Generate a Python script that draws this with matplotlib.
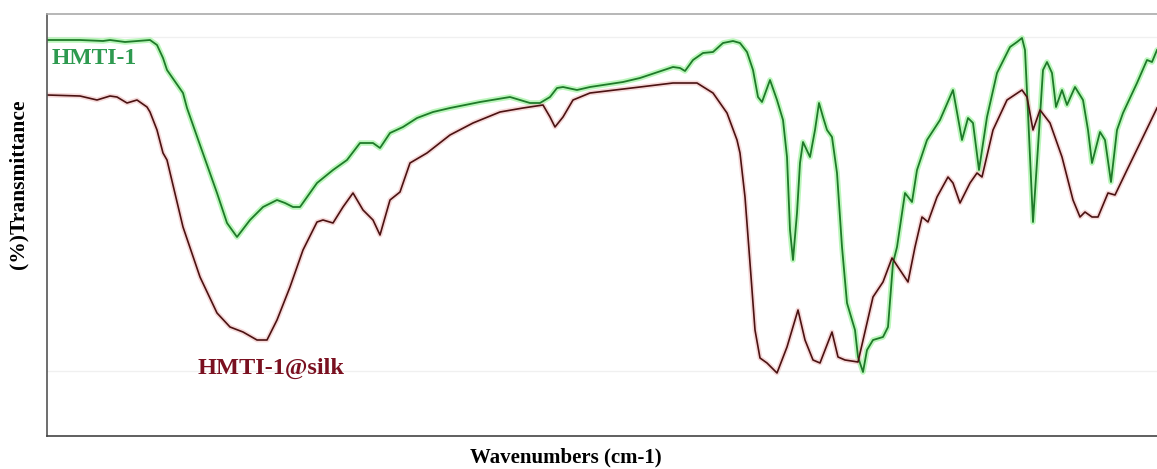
import numpy as np
import matplotlib
matplotlib.use("Agg")
import matplotlib.pyplot as plt

# positions along the (unlabelled) wavenumber axis and transmittance
green_x = [0, 33, 56, 63, 78, 103, 110, 116, 120, 136, 140, 153, 170, 180, 190, 203, 216, 230, 238, 246,
           253, 270, 286, 300, 313, 326, 333, 343, 356, 370, 386, 403, 433, 463, 473, 483, 493, 503, 510, 516,
           530, 543, 576, 593, 626, 633, 638, 646, 656, 666, 676, 686, 693, 700, 706, 711, 715, 723, 730, 736,
           740, 743, 746, 750, 753, 756, 763, 768, 772, 776, 780, 785, 790, 795, 800, 805, 808, 811, 816, 820,
           826, 836, 841, 846, 850, 858, 865, 870, 880, 893, 906, 915, 921, 926, 932, 940, 950, 963, 970, 975,
           978, 981, 986, 991, 996, 1000, 1005, 1009, 1015, 1020, 1028, 1036, 1041, 1045, 1053, 1058, 1064,
           1070, 1076, 1090, 1100, 1105, 1110]
green_t = [396, 396, 395, 396, 394, 396, 391, 378, 366, 343, 328, 291, 243, 213, 199, 216, 229, 236, 233, 229,
           229, 253, 266, 276, 293, 293, 288, 303, 309, 318, 324, 328, 334, 339, 336, 333, 333, 339, 348, 349,
           346, 349, 354, 358, 369, 368, 365, 376, 383, 384, 393, 395, 393, 384, 366, 339, 334, 356, 336, 316,
           279, 206, 176, 223, 273, 294, 279, 306, 333, 319, 306, 299, 263, 189, 133, 116, 106, 79, 64, 86,
           96, 99, 109, 173, 189, 243, 234, 266, 296, 316, 346, 296, 318, 313, 266, 319, 363, 389, 394, 398,
           386, 323, 214, 289, 366, 374, 363, 329, 346, 331, 349, 336, 306, 273, 304, 296, 254,
           306, 323, 353, 376, 374, 386]

silk_x = [0, 33, 50, 63, 70, 80, 90, 100, 103, 110, 116, 120, 136, 153, 170, 183, 196, 210, 220, 230,
          243, 256, 270, 276, 286, 296, 306, 316, 326, 333, 343, 353, 363, 380, 403, 426, 453, 476, 496, 503,
          508, 516, 526, 543, 593, 626, 650, 666, 680, 690, 693, 698, 703, 708, 713, 720, 730, 740, 751, 758,
          766, 773, 785, 791, 798, 811, 820, 826, 836, 845, 853, 861, 868, 875, 881, 890, 901, 906, 913, 923,
          930, 935, 946, 960, 975, 980, 986, 993, 1003, 1015, 1026, 1033, 1038, 1045, 1051, 1061, 1068, 1080,
          1096, 1110]
silk_t = [341, 340, 336, 340, 339, 333, 336, 329, 324, 306, 283, 276, 209, 159, 123, 109, 104, 96, 96, 116,
          149, 186, 214, 216, 213, 229, 243, 226, 216, 201, 236, 244, 273, 283, 301, 313, 324, 328, 331, 319,
          309, 319, 336, 343, 349, 353, 353, 343, 323, 296, 283, 239, 173, 106, 78, 73, 63, 89, 126, 96,
          76, 73, 104, 79, 76, 74, 113, 139, 154, 178, 166, 154, 189, 219, 214, 239, 259, 253, 233, 253,
          263, 259, 306, 336, 346, 339, 306, 326, 313, 279, 236, 219, 224, 219, 219, 243, 241, 266,
          299, 328]

fig = plt.figure(figsize=(11.57, 4.69), dpi=100)
ax = fig.add_axes([47 / 1157, 1 - 436 / 469, 1 - 47 / 1157, 422 / 469])

ax.axhline(399, color="#f0f0f0", lw=1, zorder=0)
ax.axhline(65, color="#f0f0f0", lw=1, zorder=0)

# soft halo under each trace, like the scanned original
ax.plot(green_x, green_t, color="#8ff08f", lw=4, alpha=0.6, solid_capstyle="round")
ax.plot(silk_x, silk_t, color="#f0c0c0", lw=3.5, alpha=0.6, solid_capstyle="round")
ax.plot(green_x, green_t, color="#1f7a2a", lw=1.3)
ax.plot(silk_x, silk_t, color="#4a1212", lw=1.2)

serif = ["Liberation Serif", "DejaVu Serif"]
ax.text(5, 378, "HMTI-1", color="#2e9a50", fontsize=17, fontweight="bold",
        family=serif, va="center", ha="left")
ax.text(151, 68, "HMTI-1@silk", color="#7a1020", fontsize=17.5, fontweight="bold",
        family=serif, va="center", ha="left")

ax.set_xlim(0, 1110)
ax.set_ylim(0, 422)
ax.set_xticks([])
ax.set_yticks([])
ax.spines["right"].set_visible(False)
ax.spines["top"].set_color("#aaaaaa")
ax.spines["left"].set_color("#555555")
ax.spines["bottom"].set_color("#444444")
for s in ax.spines.values():
    s.set_linewidth(1.2)

fig.text(566 / 1157, 1 - 457 / 469, "Wavenumbers (cm-1)", fontsize=15, fontweight="bold",
         family=serif, ha="center", va="center")
fig.text(18 / 1157, 1 - 184 / 469, "(%)Transmittance", fontsize=15.5, fontweight="bold",
         family=serif, ha="center", va="center", rotation=90)

fig.savefig("out.png", dpi=100)
